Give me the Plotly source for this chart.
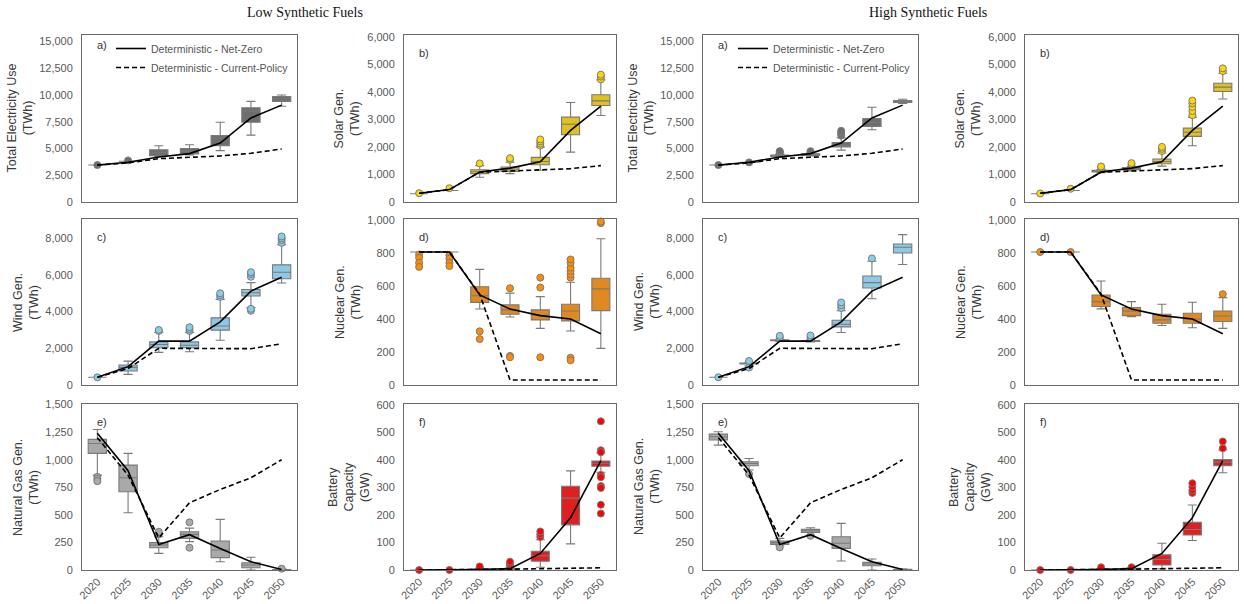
import plotly.graph_objects as go

W, H = 1244, 604

years = ["2020", "2025", "2030", "2035", "2040", "2045", "2050"]

# ---------------- deterministic lines (shared by both scenarios) ----------------
elec_nz = [3450, 3720, 4200, 4520, 5500, 7850, 9050]
elec_cp = [3450, 3650, 4050, 4150, 4300, 4550, 4950]
solar_nz = [320, 450, 1090, 1230, 1460, 2600, 3480]
solar_cp = [320, 450, 1080, 1130, 1170, 1210, 1320]
wind_nz = [420, 1000, 2390, 2390, 3440, 5120, 5880]
wind_cp = [420, 900, 2000, 2000, 1980, 1980, 2250]
nuc_nz = [805, 805, 545, 460, 420, 400, 310]
nuc_cp = [805, 805, 550, 30, 30, 30, 30]
gas_nz = [1240, 900, 230, 320, 195, 75, 5]
gas_cp = [1200, 860, 290, 610, 730, 836, 1000]
batt_nz = [0, 0, 2, 5, 60, 190, 397]
batt_cp = [0, 0, 2, 3, 5, 7, 8]

# ---------------- box statistics: [lower whisker, q1, median, q3, upper whisker] ----------------
# Low Synthetic Fuels
elec_low_stats = [[3450, 3450, 3450, 3450, 3450], [3800, 3800, 3800, 3800, 3800],
                  [4250, 4330, 4600, 4880, 5250], [4400, 4500, 4750, 5000, 5350],
                  [4800, 5250, 5950, 6200, 7450], [6250, 7450, 8500, 8800, 9400],
                  [8950, 9400, 9650, 9850, 10000]]
elec_low_out_x = ["2020", "2025"]
elec_low_out_y = [3450, 3880]

solar_low_stats = [[300, 300, 300, 300, 300], [420, 420, 420, 420, 420],
                   [900, 1030, 1100, 1170, 1320], [1030, 1110, 1190, 1270, 1440],
                   [1150, 1350, 1470, 1620, 1990], [1810, 2440, 2820, 3080, 3610],
                   [3140, 3500, 3670, 3890, 4430]]
solar_low_out_x = ["2020", "2025", "2030", "2035", "2035", "2040", "2040", "2040", "2040",
                   "2050", "2050", "2050"]
solar_low_out_y = [320, 500, 1400, 1530, 1590, 2050, 2120, 2200, 2270, 4450, 4550, 4620]

wind_low_stats = [[420, 420, 420, 420, 420], [580, 760, 960, 1090, 1300],
                  [1780, 2030, 2210, 2350, 2860], [1810, 2030, 2170, 2350, 2860],
                  [2440, 2990, 3220, 3660, 4670], [4220, 4850, 5030, 5210, 5580],
                  [5560, 5790, 6150, 6550, 7650]]
wind_low_out_x = ["2020", "2030", "2030", "2035", "2035", "2035", "2040", "2040", "2040",
                  "2045", "2045", "2045", "2045", "2045", "2050", "2050", "2050", "2050"]
wind_low_out_y = [420, 2950, 3000, 2950, 3050, 3150, 4800, 4900, 5000,
                  4050, 4150, 5900, 6050, 6150, 7750, 7900, 8000, 8100]

nuc_low_stats = [[805, 805, 805, 805, 805], [805, 805, 805, 805, 805],
                 [460, 500, 540, 595, 700], [412, 428, 455, 485, 556],
                 [343, 394, 424, 455, 535], [327, 388, 448, 489, 622],
                 [222, 450, 582, 646, 885]]
nuc_low_out_x = ["2020", "2020", "2020", "2020", "2025", "2025", "2025", "2025",
                 "2030", "2030", "2035", "2035", "2035", "2040", "2040", "2040",
                 "2045", "2045", "2045", "2045", "2045", "2045", "2045", "2045",
                 "2050", "2050"]
nuc_low_out_y = [790, 770, 740, 715, 785, 765, 740, 720,
                 325, 278, 586, 176, 168, 590, 650, 168,
                 650, 670, 690, 710, 740, 760, 165, 150,
                 980, 990]

gas_low_stats = [[860, 1057, 1147, 1184, 1274], [519, 710, 836, 951, 1057],
                 [151, 202, 226, 248, 302], [257, 287, 323, 347, 380],
                 [75, 112, 181, 263, 459], [0, 21, 45, 66, 115],
                 [0, 0, 3, 5, 10]]
gas_low_out_x = ["2020", "2020", "2020", "2030", "2030", "2035", "2035", "2050"]
gas_low_out_y = [845, 825, 805, 323, 347, 432, 202, 12]

batt_low_stats = [[0, 0, 0, 0, 0], [0, 0, 0, 0, 0],
                  [0, 1, 2, 3, 6], [0, 2, 3, 5, 10],
                  [10, 32, 52, 68, 110], [95, 164, 261, 304, 360],
                  [355, 377, 388, 396, 425]]
batt_low_out_x = ["2020", "2025", "2030", "2030", "2035", "2035", "2035", "2040", "2040", "2040",
                  "2050", "2050", "2050", "2050", "2050", "2050", "2050", "2050", "2050"]
batt_low_out_y = [0, 0, 10, 13, 15, 22, 30, 120, 130, 140,
                  540, 435, 428, 345, 337, 305, 298, 237, 205]

# High Synthetic Fuels
elec_high_stats = [[3450, 3450, 3450, 3450, 3450], [3700, 3700, 3700, 3700, 3700],
                   [4150, 4250, 4300, 4380, 4480], [4300, 4350, 4420, 4500, 4560],
                   [4850, 5150, 5300, 5550, 6000], [6750, 7050, 7450, 7800, 8850],
                   [9200, 9300, 9400, 9480, 9600]]
elec_high_out_x = ["2020", "2025", "2030", "2030", "2030", "2035", "2035",
                   "2040", "2040", "2040", "2040"]
elec_high_out_y = [3450, 3700, 4600, 4700, 4750, 4650, 4750, 6200, 6350, 6500, 6650]

solar_high_stats = [[300, 300, 300, 300, 300], [420, 420, 420, 420, 420],
                    [1060, 1090, 1120, 1150, 1180], [1130, 1170, 1210, 1250, 1290],
                    [1300, 1390, 1470, 1560, 1780], [2040, 2380, 2530, 2680, 3080],
                    [3740, 4010, 4170, 4310, 4670]]
solar_high_out_x = ["2020", "2025", "2030", "2030", "2035", "2035", "2040", "2040", "2040",
                    "2045", "2045", "2045", "2045", "2045", "2050", "2050"]
solar_high_out_y = [310, 480, 1250, 1290, 1350, 1410, 1850, 1930, 2000,
                    3150, 3300, 3450, 3580, 3680, 4750, 4850]

wind_high_stats = [[420, 420, 420, 420, 420], [1050, 1150, 1180, 1200, 1230],
                   [2380, 2410, 2430, 2460, 2490], [2350, 2380, 2400, 2430, 2470],
                   [2860, 3170, 3310, 3530, 4050], [4700, 5290, 5580, 5940, 6750],
                   [6570, 7200, 7510, 7690, 8200]]
wind_high_out_x = ["2020", "2025", "2025", "2030", "2030", "2035", "2035",
                   "2040", "2040", "2040", "2045"]
wind_high_out_y = [420, 950, 1310, 2580, 2680, 2600, 2700, 4200, 4350, 4500, 6900]

nuc_high_stats = [[805, 805, 805, 805, 805], [805, 805, 805, 805, 805],
                  [461, 475, 505, 545, 630], [414, 420, 448, 469, 505],
                  [360, 374, 394, 428, 489], [347, 374, 400, 434, 501],
                  [343, 384, 418, 448, 529]]
nuc_high_out_x = ["2020", "2025", "2050"]
nuc_high_out_y = [805, 805, 550]

gas_high_stats = [[1132, 1178, 1208, 1232, 1253], [906, 945, 966, 981, 1011],
                  [220, 232, 248, 263, 287], [317, 341, 356, 368, 383],
                  [82, 196, 242, 302, 423], [0, 39, 54, 69, 100],
                  [0, 0, 3, 6, 12]]
gas_high_out_x = ["2025", "2030", "2035"]
gas_high_out_y = [870, 205, 310]

batt_high_stats = [[0, 0, 0, 0, 0], [0, 0, 0, 0, 0],
                   [0, 1, 2, 3, 5], [0, 2, 4, 6, 8],
                   [4, 18, 38, 55, 97], [107, 127, 147, 173, 236],
                   [353, 379, 392, 401, 436]]
batt_high_out_x = ["2020", "2025", "2030", "2035", "2045", "2045", "2045", "2045", "2050", "2050"]
batt_high_out_y = [0, 0, 10, 10, 280, 290, 302, 315, 442, 467]

scenario_titles = ["Low Synthetic Fuels", "High Synthetic Fuels"]
legend_names = ["Deterministic - Net-Zero", "Deterministic - Current-Policy"]

# ---------------- styling / layout ----------------
FONT = "Liberation Sans, Arial, sans-serif"
EDGE = "#7a7a7a"
AXC = "#6a6a6a"
TICKC = "#595959"

X_PIX = [(82, 297), (404, 616), (703, 918), (1025, 1238)]
Y_PIX = [(35, 202), (219, 385), (404, 570)]

var_style = {
    "elec": dict(fill="#6e6e6e", out="#6e6e6e", title="Total Electricity Use<br>(TWh)",
                 top=15600, dtick=2500, label="a)", gap=45, nz=elec_nz, cp=elec_cp),
    "solar": dict(fill="#DFC120", out="#FFD700", title="Solar Gen.<br>(TWh)",
                  top=6060, dtick=1000, label="b)", gap=40, nz=solar_nz, cp=solar_cp),
    "wind": dict(fill="#8EC8E6", out="#87CEEB", title="Wind Gen.<br>(TWh)",
                 top=9050, dtick=2000, label="c)", gap=39, nz=wind_nz, cp=wind_cp),
    "nuc": dict(fill="#DF8920", out="#FF8C00", title="Nuclear Gen.<br>(TWh)",
                top=1005, dtick=200, label="d)", gap=39, nz=nuc_nz, cp=nuc_cp),
    "gas": dict(fill="#A9A9A9", out="#A9A9A9", title="Natural Gas Gen.<br>(TWh)",
                top=1505, dtick=250, label="e)", gap=39, nz=gas_nz, cp=gas_cp),
    "batt": dict(fill="#DF2020", out="#FF0000", title="Battery<br>Capacity<br>(GW)",
                 top=603, dtick=100, label="f)", gap=30, nz=batt_nz, cp=batt_cp),
}

panels = [
    # row, col, var, stats, outlier years, outlier values
    (0, 0, "elec", elec_low_stats, elec_low_out_x, elec_low_out_y),
    (0, 1, "solar", solar_low_stats, solar_low_out_x, solar_low_out_y),
    (0, 2, "elec", elec_high_stats, elec_high_out_x, elec_high_out_y),
    (0, 3, "solar", solar_high_stats, solar_high_out_x, solar_high_out_y),
    (1, 0, "wind", wind_low_stats, wind_low_out_x, wind_low_out_y),
    (1, 1, "nuc", nuc_low_stats, nuc_low_out_x, nuc_low_out_y),
    (1, 2, "wind", wind_high_stats, wind_high_out_x, wind_high_out_y),
    (1, 3, "nuc", nuc_high_stats, nuc_high_out_x, nuc_high_out_y),
    (2, 0, "gas", gas_low_stats, gas_low_out_x, gas_low_out_y),
    (2, 1, "batt", batt_low_stats, batt_low_out_x, batt_low_out_y),
    (2, 2, "gas", gas_high_stats, gas_high_out_x, gas_high_out_y),
    (2, 3, "batt", batt_high_stats, batt_high_out_x, batt_high_out_y),
]

fig = go.Figure()
annotations = []
layout_axes = {}

for i, (row, col, var, stats, ox, oy) in enumerate(panels):
    n = i + 1
    sfx = "" if n == 1 else str(n)
    xa, ya = "x" + sfx, "y" + sfx
    st = var_style[var]

    fig.add_trace(go.Box(
        x=years,
        lowerfence=[s[0] for s in stats], q1=[s[1] for s in stats],
        median=[s[2] for s in stats], q3=[s[3] for s in stats],
        upperfence=[s[4] for s in stats],
        fillcolor=st["fill"], line=dict(color=EDGE, width=1.1),
        whiskerwidth=0.5, boxpoints=False, showlegend=False,
        hoverinfo="skip", xaxis=xa, yaxis=ya,
    ))
    fig.add_trace(go.Scatter(
        x=ox, y=oy, mode="markers", cliponaxis=False,
        marker=dict(size=7, color=st["out"], line=dict(color=EDGE, width=1)),
        showlegend=False, hoverinfo="skip", xaxis=xa, yaxis=ya,
    ))
    is_leg = (var == "elec")
    leg = "legend" if col == 0 else "legend2"
    fig.add_trace(go.Scatter(
        x=years, y=st["nz"], mode="lines", name=legend_names[0],
        line=dict(color="black", width=1.6),
        showlegend=is_leg, legend=leg, hoverinfo="skip", xaxis=xa, yaxis=ya,
    ))
    fig.add_trace(go.Scatter(
        x=years, y=st["cp"], mode="lines", name=legend_names[1],
        line=dict(color="black", width=1.6, dash="5px,3px"),
        showlegend=is_leg, legend=leg, hoverinfo="skip", xaxis=xa, yaxis=ya,
    ))

    x0, x1 = X_PIX[col]
    y0, y1 = Y_PIX[row]
    layout_axes["xaxis" + sfx] = dict(
        domain=[x0 / W, x1 / W], anchor=ya, type="category", automargin=False,
        categoryorder="array", categoryarray=years, range=[-0.5, 6.5],
        showline=True, mirror=True, linecolor=AXC, linewidth=1,
        showgrid=False, zeroline=False, ticks="",
        showticklabels=(row == 2), tickangle=-45,
        tickfont=dict(family=FONT, size=11, color=TICKC),
    )
    layout_axes["yaxis" + sfx] = dict(
        domain=[1 - y1 / H, 1 - y0 / H], anchor=xa, automargin=False,
        range=[0, st["top"]], tick0=0, dtick=st["dtick"], tickformat=",d",
        showline=True, mirror=True, linecolor=AXC, linewidth=1,
        showgrid=False, zeroline=False, ticks="", ticklabelstandoff=6,
        tickfont=dict(family=FONT, size=11, color=TICKC),
    )
    # y-axis title (rotated text)
    annotations.append(dict(
        text=st["title"], textangle=-90, x=(x0 - st["gap"]) / W, y=1 - (y0 + y1) / 2 / H,
        xref="paper", yref="paper", xanchor="right", yanchor="middle",
        showarrow=False, font=dict(family=FONT, size=12.5, color="#3a3a3a"),
    ))
    top_off = 2 if var == "elec" else 10
    annotations.append(dict(
        text=st["label"], x=(x0 + 13) / W, y=1 - (y0 + top_off) / H,
        xref="paper", yref="paper", xanchor="left", yanchor="top",
        showarrow=False, font=dict(family=FONT, size=11, color="#333333"),
    ))

for k, cx in enumerate([305, 928]):
    annotations.append(dict(
        text=scenario_titles[k], x=cx / W, y=1 - 3 / H, xref="paper", yref="paper",
        xanchor="center", yanchor="top", showarrow=False,
        font=dict(family="Liberation Serif, Times New Roman, serif", size=14, color="#111111"),
    ))

legend_common = dict(
    xanchor="left", yanchor="top", bgcolor="rgba(0,0,0,0)", borderwidth=0,
    font=dict(family=FONT, size=10.5, color="#555555"), itemwidth=30, tracegroupgap=0,
)

fig.update_layout(
    width=W, height=H, margin=dict(l=0, r=0, t=0, b=0, autoexpand=False),
    paper_bgcolor="white", plot_bgcolor="white",
    boxgap=0.15, boxmode="overlay",
    annotations=annotations,
    legend=dict(x=111 / W, y=1 - 34 / H, **legend_common),
    legend2=dict(x=733 / W, y=1 - 34 / H, **legend_common),
    **layout_axes,
)

fig.write_html(
    "out.html",
    config={"displayModeBar": False},
    post_script="document.body.style.margin='0px';document.body.style.overflow='hidden';",
)
